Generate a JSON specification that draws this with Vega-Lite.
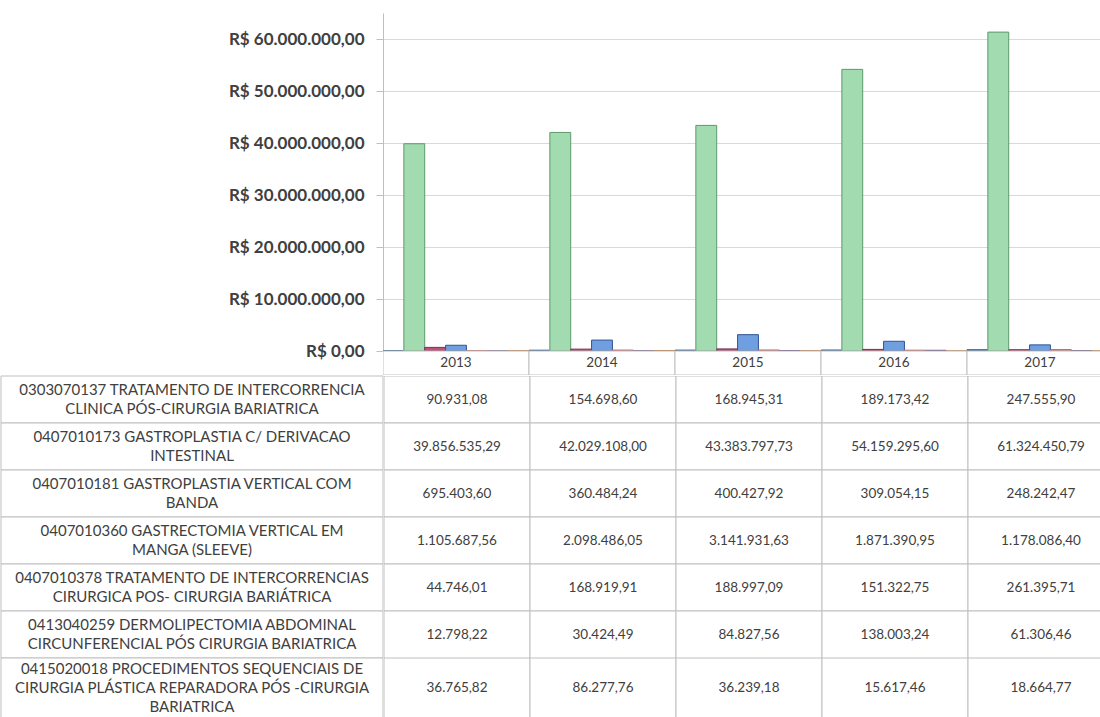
{
  "$schema": "https://vega.github.io/schema/vega-lite/v6.json",
  "padding": {"top": 13, "left": 0, "right": 0, "bottom": 0},
  "spacing": 0,
  "config": {
    "font": "Lato",
    "view": {"stroke": null},
    "concat": {"spacing": 0},
    "locale": {"number": {"decimal": ",", "thousands": ".", "grouping": [3], "currency": ["R$ ", ""]}}
  },
  "datasets": {
    "costs": [
      {"code": "0303070137", "label": "0303070137 TRATAMENTO DE INTERCORRENCIA\nCLINICA PÓS-CIRURGIA BARIATRICA", "year": "2013", "value": 90931.08},
      {"code": "0303070137", "label": "0303070137 TRATAMENTO DE INTERCORRENCIA\nCLINICA PÓS-CIRURGIA BARIATRICA", "year": "2014", "value": 154698.60},
      {"code": "0303070137", "label": "0303070137 TRATAMENTO DE INTERCORRENCIA\nCLINICA PÓS-CIRURGIA BARIATRICA", "year": "2015", "value": 168945.31},
      {"code": "0303070137", "label": "0303070137 TRATAMENTO DE INTERCORRENCIA\nCLINICA PÓS-CIRURGIA BARIATRICA", "year": "2016", "value": 189173.42},
      {"code": "0303070137", "label": "0303070137 TRATAMENTO DE INTERCORRENCIA\nCLINICA PÓS-CIRURGIA BARIATRICA", "year": "2017", "value": 247555.90},
      {"code": "0407010173", "label": "0407010173 GASTROPLASTIA C/ DERIVACAO\nINTESTINAL", "year": "2013", "value": 39856535.29},
      {"code": "0407010173", "label": "0407010173 GASTROPLASTIA C/ DERIVACAO\nINTESTINAL", "year": "2014", "value": 42029108.00},
      {"code": "0407010173", "label": "0407010173 GASTROPLASTIA C/ DERIVACAO\nINTESTINAL", "year": "2015", "value": 43383797.73},
      {"code": "0407010173", "label": "0407010173 GASTROPLASTIA C/ DERIVACAO\nINTESTINAL", "year": "2016", "value": 54159295.60},
      {"code": "0407010173", "label": "0407010173 GASTROPLASTIA C/ DERIVACAO\nINTESTINAL", "year": "2017", "value": 61324450.79},
      {"code": "0407010181", "label": "0407010181 GASTROPLASTIA VERTICAL COM\nBANDA", "year": "2013", "value": 695403.60},
      {"code": "0407010181", "label": "0407010181 GASTROPLASTIA VERTICAL COM\nBANDA", "year": "2014", "value": 360484.24},
      {"code": "0407010181", "label": "0407010181 GASTROPLASTIA VERTICAL COM\nBANDA", "year": "2015", "value": 400427.92},
      {"code": "0407010181", "label": "0407010181 GASTROPLASTIA VERTICAL COM\nBANDA", "year": "2016", "value": 309054.15},
      {"code": "0407010181", "label": "0407010181 GASTROPLASTIA VERTICAL COM\nBANDA", "year": "2017", "value": 248242.47},
      {"code": "0407010360", "label": "0407010360 GASTRECTOMIA VERTICAL EM\nMANGA (SLEEVE)", "year": "2013", "value": 1105687.56},
      {"code": "0407010360", "label": "0407010360 GASTRECTOMIA VERTICAL EM\nMANGA (SLEEVE)", "year": "2014", "value": 2098486.05},
      {"code": "0407010360", "label": "0407010360 GASTRECTOMIA VERTICAL EM\nMANGA (SLEEVE)", "year": "2015", "value": 3141931.63},
      {"code": "0407010360", "label": "0407010360 GASTRECTOMIA VERTICAL EM\nMANGA (SLEEVE)", "year": "2016", "value": 1871390.95},
      {"code": "0407010360", "label": "0407010360 GASTRECTOMIA VERTICAL EM\nMANGA (SLEEVE)", "year": "2017", "value": 1178086.40},
      {"code": "0407010378", "label": "0407010378 TRATAMENTO DE INTERCORRENCIAS\nCIRURGICA POS- CIRURGIA BARIÁTRICA", "year": "2013", "value": 44746.01},
      {"code": "0407010378", "label": "0407010378 TRATAMENTO DE INTERCORRENCIAS\nCIRURGICA POS- CIRURGIA BARIÁTRICA", "year": "2014", "value": 168919.91},
      {"code": "0407010378", "label": "0407010378 TRATAMENTO DE INTERCORRENCIAS\nCIRURGICA POS- CIRURGIA BARIÁTRICA", "year": "2015", "value": 188997.09},
      {"code": "0407010378", "label": "0407010378 TRATAMENTO DE INTERCORRENCIAS\nCIRURGICA POS- CIRURGIA BARIÁTRICA", "year": "2016", "value": 151322.75},
      {"code": "0407010378", "label": "0407010378 TRATAMENTO DE INTERCORRENCIAS\nCIRURGICA POS- CIRURGIA BARIÁTRICA", "year": "2017", "value": 261395.71},
      {"code": "0413040259", "label": "0413040259 DERMOLIPECTOMIA ABDOMINAL\nCIRCUNFERENCIAL PÓS CIRURGIA BARIATRICA", "year": "2013", "value": 12798.22},
      {"code": "0413040259", "label": "0413040259 DERMOLIPECTOMIA ABDOMINAL\nCIRCUNFERENCIAL PÓS CIRURGIA BARIATRICA", "year": "2014", "value": 30424.49},
      {"code": "0413040259", "label": "0413040259 DERMOLIPECTOMIA ABDOMINAL\nCIRCUNFERENCIAL PÓS CIRURGIA BARIATRICA", "year": "2015", "value": 84827.56},
      {"code": "0413040259", "label": "0413040259 DERMOLIPECTOMIA ABDOMINAL\nCIRCUNFERENCIAL PÓS CIRURGIA BARIATRICA", "year": "2016", "value": 138003.24},
      {"code": "0413040259", "label": "0413040259 DERMOLIPECTOMIA ABDOMINAL\nCIRCUNFERENCIAL PÓS CIRURGIA BARIATRICA", "year": "2017", "value": 61306.46},
      {"code": "0415020018", "label": "0415020018 PROCEDIMENTOS SEQUENCIAIS DE\nCIRURGIA PLÁSTICA REPARADORA PÓS -CIRURGIA\nBARIATRICA", "year": "2013", "value": 36765.82},
      {"code": "0415020018", "label": "0415020018 PROCEDIMENTOS SEQUENCIAIS DE\nCIRURGIA PLÁSTICA REPARADORA PÓS -CIRURGIA\nBARIATRICA", "year": "2014", "value": 86277.76},
      {"code": "0415020018", "label": "0415020018 PROCEDIMENTOS SEQUENCIAIS DE\nCIRURGIA PLÁSTICA REPARADORA PÓS -CIRURGIA\nBARIATRICA", "year": "2015", "value": 36239.18},
      {"code": "0415020018", "label": "0415020018 PROCEDIMENTOS SEQUENCIAIS DE\nCIRURGIA PLÁSTICA REPARADORA PÓS -CIRURGIA\nBARIATRICA", "year": "2016", "value": 15617.46},
      {"code": "0415020018", "label": "0415020018 PROCEDIMENTOS SEQUENCIAIS DE\nCIRURGIA PLÁSTICA REPARADORA PÓS -CIRURGIA\nBARIATRICA", "year": "2017", "value": 18664.77}
    ]
  },
  "vconcat": [
    {
      "bounds": "flush",
      "spacing": 0,
      "hconcat": [
        {
          "width": 382, "height": 362,
          "data": {"name": "costs"},
          "transform": [{"filter": "datum.code == '0303070137' && datum.year == '2013'"}],
          "mark": {"type": "rect", "opacity": 0},
          "encoding": {}
        },
        {
          "width": 718,
          "height": 362,
          "data": {"name": "costs"},
          "layer": [
            {
              "mark": {"type": "bar", "clip": true, "strokeWidth": 1},
              "encoding": {
                "x": {"field": "year", "type": "nominal", "axis": null, "scale": {"range": [0, 730], "paddingInner": 0, "paddingOuter": 0}},
                "xOffset": {"field": "code", "type": "nominal", "scale": {"paddingInner": 0, "paddingOuter": 0}},
                "y": {
                  "field": "value", "type": "quantitative",
                  "scale": {"domain": [0, 65000000], "nice": false, "range": [338, 0]},
                  "axis": {
                    "title": null,
                    "values": [0, 10000000, 20000000, 30000000, 40000000, 50000000, 60000000],
                    "format": "$,.2f",
                    "labelFontSize": 17, "labelFontWeight": "bold", "labelColor": "#404040",
                    "labelPadding": 12, "tickSize": 7, "tickColor": "#bfbfbf",
                    "domainColor": "#bfbfbf", "gridColor": "#d9d9d9"
                  }
                },
                "fill": {
                  "field": "code", "type": "nominal", "legend": null,
                  "scale": {
                    "domain": ["0303070137", "0407010173", "0407010181", "0407010360", "0407010378", "0413040259", "0415020018"],
                    "range": ["#4f81bd", "#a3dbb0", "#c0507a", "#6f9fe0", "#d99694", "#8064a2", "#f79646"]
                  }
                },
                "stroke": {
                  "field": "code", "type": "nominal", "legend": null,
                  "scale": {
                    "domain": ["0303070137", "0407010173", "0407010181", "0407010360", "0407010378", "0413040259", "0415020018"],
                    "range": ["#385d8a", "#5b9b6b", "#7a3050", "#2f5597", "#b0605e", "#5c4776", "#b66d31"]
                  }
                }
              }
            },
            {
              "transform": [{"filter": "datum.code == '0303070137'"}],
              "mark": {"type": "rect", "fill": "white", "stroke": "#bfbfbf", "clip": true},
              "encoding": {
                "x": {"field": "year", "type": "nominal", "axis": null, "scale": {"range": [0, 730], "paddingInner": 0, "paddingOuter": 0}},
                "y": {"datum": "header", "type": "nominal", "axis": null, "scale": {"range": [338, 362], "paddingInner": 0, "paddingOuter": 0}}
              }
            },
            {
              "transform": [{"filter": "datum.code == '0303070137'"}],
              "mark": {"type": "text", "fontSize": 13.5, "color": "#404040", "clip": true},
              "encoding": {
                "x": {"field": "year", "type": "nominal", "axis": null, "scale": {"range": [0, 730], "paddingInner": 0, "paddingOuter": 0}},
                "y": {"datum": "header", "type": "nominal", "axis": null, "scale": {"range": [338, 362], "paddingInner": 0, "paddingOuter": 0}},
                "text": {"field": "year"}
              }
            }
          ],
          "resolve": {"scale": {"y": "independent"}, "axis": {"y": "independent"}}
        }
      ]
    },
    {
      "spacing": 0,
      "hconcat": [
        {
          "bounds": "flush",
          "spacing": 0,
          "vconcat": [
            {
              "width": 382, "height": 282,
              "data": {"name": "costs"},
              "transform": [{"filter": "datum.year == '2013' && datum.code != '0415020018'"}],
              "layer": [
                {
                  "mark": {"type": "rect", "fill": "white", "stroke": "#bfbfbf"},
                  "encoding": {
                    "y": {"field": "code", "type": "nominal", "axis": null, "scale": {"paddingInner": 0, "paddingOuter": 0}}
                  }
                },
                {
                  "mark": {"type": "text", "lineBreak": "\n", "fontSize": 15, "lineHeight": 19, "dy": -9.5, "color": "#404040"},
                  "encoding": {
                    "y": {"field": "code", "type": "nominal", "axis": null, "scale": {"paddingInner": 0, "paddingOuter": 0}},
                    "text": {"field": "label"}
                  }
                }
              ]
            },
            {
              "width": 382, "height": 60,
              "data": {"name": "costs"},
              "transform": [{"filter": "datum.year == '2013' && datum.code == '0415020018'"}],
              "layer": [
                {
                  "mark": {"type": "rect", "fill": "white", "stroke": "#bfbfbf"},
                  "encoding": {
                    "y": {"field": "code", "type": "nominal", "axis": null, "scale": {"paddingInner": 0, "paddingOuter": 0}}
                  }
                },
                {
                  "mark": {"type": "text", "lineBreak": "\n", "fontSize": 15, "lineHeight": 19, "dy": -19, "color": "#404040"},
                  "encoding": {
                    "y": {"field": "code", "type": "nominal", "axis": null, "scale": {"paddingInner": 0, "paddingOuter": 0}},
                    "text": {"field": "label"}
                  }
                }
              ]
            }
          ]
        },
        {
          "bounds": "flush",
          "spacing": 0,
          "vconcat": [
            {
              "width": 718, "height": 282,
              "data": {"name": "costs"},
              "transform": [{"filter": "datum.code != '0415020018'"}],
              "layer": [
                {
                  "mark": {"type": "rect", "fill": "white", "stroke": "#bfbfbf", "clip": true},
                  "encoding": {
                    "x": {"field": "year", "type": "nominal", "axis": null, "scale": {"range": [0, 730], "paddingInner": 0, "paddingOuter": 0}},
                    "y": {"field": "code", "type": "nominal", "axis": null, "scale": {"paddingInner": 0, "paddingOuter": 0}}
                  }
                },
                {
                  "mark": {"type": "text", "fontSize": 13.5, "color": "#404040", "clip": true},
                  "encoding": {
                    "x": {"field": "year", "type": "nominal", "axis": null, "scale": {"range": [0, 730], "paddingInner": 0, "paddingOuter": 0}},
                    "y": {"field": "code", "type": "nominal", "axis": null, "scale": {"paddingInner": 0, "paddingOuter": 0}},
                    "text": {"field": "value", "type": "quantitative", "format": ",.2f"}
                  }
                }
              ]
            },
            {
              "width": 718, "height": 60,
              "data": {"name": "costs"},
              "transform": [{"filter": "datum.code == '0415020018'"}],
              "layer": [
                {
                  "mark": {"type": "rect", "fill": "white", "stroke": "#bfbfbf", "clip": true},
                  "encoding": {
                    "x": {"field": "year", "type": "nominal", "axis": null, "scale": {"range": [0, 730], "paddingInner": 0, "paddingOuter": 0}},
                    "y": {"field": "code", "type": "nominal", "axis": null, "scale": {"paddingInner": 0, "paddingOuter": 0}}
                  }
                },
                {
                  "mark": {"type": "text", "fontSize": 13.5, "color": "#404040", "clip": true},
                  "encoding": {
                    "x": {"field": "year", "type": "nominal", "axis": null, "scale": {"range": [0, 730], "paddingInner": 0, "paddingOuter": 0}},
                    "y": {"field": "code", "type": "nominal", "axis": null, "scale": {"paddingInner": 0, "paddingOuter": 0}},
                    "text": {"field": "value", "type": "quantitative", "format": ",.2f"}
                  }
                }
              ]
            }
          ]
        }
      ]
    }
  ]
}
